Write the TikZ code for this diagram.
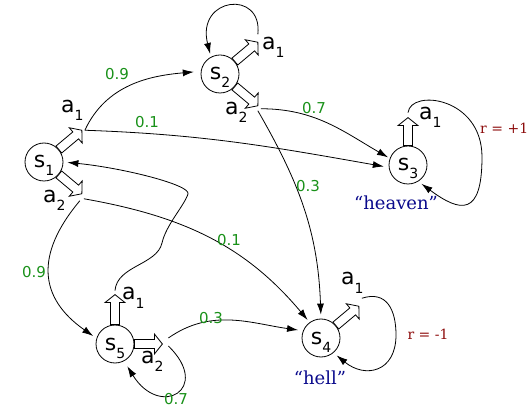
\documentclass[tikz,border=0pt]{standalone}
\usepackage{fontspec}
\setmainfont{DejaVu Sans}
\newfontfamily\serf{DejaVu Serif}
\usetikzlibrary{arrows.meta}
\definecolor{pgreen}{RGB}{25,145,25}
\definecolor{pred}{RGB}{140,10,10}
\definecolor{pblue}{RGB}{10,10,140}
\newcommand\mysub[2]{#1\raisebox{-8pt}{\fontsize{14}{14}\selectfont #2}}
\begin{document}
\begin{tikzpicture}[x=1pt,y=1pt,
  st/.style={circle,draw,line width=0.8pt,minimum size=38pt,inner sep=0pt,
    font=\fontsize{22}{22}\selectfont,text height=12pt,text depth=0pt},
  act/.pic={\draw[line width=0.8pt,fill=white,line join=miter]
      (0,-4.5) -- (#1-8,-4.5) -- (#1-8,-10) -- (#1,0) -- (#1-8,10) -- (#1-8,4.5) -- (0,4.5) -- cycle;
    \coordinate (-tip) at (#1,0);},
  alab/.style={anchor=base west,inner sep=0pt,font=\fontsize{22}{22}\selectfont},
  prob/.style={text=pgreen,font=\fontsize{15}{15}\selectfont,inner sep=0pt},
  rew/.style={text=pred,font=\serf\fontsize{14}{14}\selectfont,inner sep=0pt},
  sname/.style={text=pblue,font=\serf\fontsize{18}{18}\selectfont,inner sep=0pt},
  conn/.style={line width=0.8pt,-{Latex[length=11pt,width=7pt]}},
]
\useasboundingbox (0,0) rectangle (527,407);

% states
\node[st] (s1) at (44,245) {\mysub{s}{1}};
\node[st] (s2) at (220,333) {\mysub{s}{2}};
\node[st] (s3) at (408,242) {\mysub{s}{3}};
\node[st] (s4) at (321,69) {\mysub{s}{4}};
\node[st] (s5) at (115,63) {\mysub{s}{5}};

% actions
\pic[rotate=40] (s1a1) at (s1.40) {act=30};
\pic[rotate=-40] (s1a2) at (s1.-40) {act=30};
\pic[rotate=40] (s2a1) at (s2.40) {act=30};
\pic[rotate=-40] (s2a2) at (s2.-40) {act=30};
\pic[rotate=90] (s3a1) at (s3.90) {act=28};
\pic[rotate=40] (s4a1) at (s4.40) {act=30};
\pic[rotate=90] (s5a1) at (s5.90) {act=30};
\pic (s5a2) at (s5.0) {act=28};

% action labels
\node[alab] (l11) at (61,294) {\mysub{a}{1}};
\node[alab] (l12) at (43,204) {\mysub{a}{2}};
\node[alab] (l21) at (262,357) {\mysub{a}{1}};
\node[alab] (l22) at (225,292) {\mysub{a}{2}};
\node[alab] (l31) at (419,287) {\mysub{a}{1}};
\node[alab] (l41) at (341,122) {\mysub{a}{1}};
\node[alab] (l51) at (122,107) {\mysub{a}{1}};
\node[alab] (l52) at (141,44) {\mysub{a}{2}};

% transitions
\draw[conn,shorten >=7pt] ([xshift=3pt]s1a1-tip) to[out=65,in=185] (s2.172);
\draw[conn,shorten >=5pt] ([xshift=3pt]s1a1-tip) to[out=-2,in=170] (s3.187);
\draw[conn,shorten >=2pt] ([shift={(3pt,-3pt)}]s2a2-tip) to[out=0,in=150] (s3.160);
\draw[conn,shorten >=4pt] ([yshift=-5pt]s2a2-tip) to[out=-60,in=92] (s4.north);
\draw[conn,shorten >=3pt] ([yshift=8pt]s2a1-tip) .. controls +(5,45) and +(-15,60) .. (s2.118);
\draw[conn,shorten >=3pt] ([shift={(2pt,-5pt)}]s1a2-tip) to[out=-10,in=130] (s4.126);
\draw[conn,shorten >=4pt] ([shift={(-2pt,-7pt)}]s1a2-tip) to[out=-130,in=145,looseness=1.3] (s5.163);
\draw[conn,shorten >=4pt] ([yshift=4pt]s5a1-tip) .. controls +(2,25) and +(-5,-22) .. (162,164)
   .. controls +(4,18) and +(-4,-12) .. (188,213)
   .. controls +(3,9) and +(60,-6) .. (s1.east);
\draw[conn,shorten >=5pt] ([shift={(6pt,6pt)}]s5a2-tip) to[out=35,in=172] (s4.158);
\draw[conn,shorten >=6pt] ([shift={(6pt,-2pt)}]s5a2-tip) .. controls +(44,-43) and +(36,-58) .. (s5.-62);
\draw[conn,shorten >=4pt] ([yshift=5pt]s3a1-tip) .. controls +(3,24) and +(0,60) .. (482,250)
   .. controls +(0,-60) and +(42,-31) .. (s3.-58);
\draw[conn,shorten >=4pt] ([shift={(3pt,8pt)}]s4a1-tip) .. controls +(25,8) and +(0,25) .. (396,72)
   .. controls +(0,-37) and +(32,-26) .. (s4.-50);

% probabilities
\node[prob] (p1) at (117,333) {0.9};
\node[prob] (p2) at (147,285) {0.1};
\node[prob] (p3) at (314,299) {0.7};
\node[prob] (p4) at (308,221) {0.3};
\node[prob] (p5) at (229,167) {0.1};
\node[prob] (p6) at (34,135) {0.9};
\node[prob] (p7) at (211,89) {0.3};
\node[prob] (p8) at (176,8) {0.7};

% rewards and names
\node[rew,anchor=west] (r3) at (480,279) {r = +1};
\node[rew] (r4) at (428,73) {r = -1};
\node[sname] (n3) at (396,204) {“heaven”};
\node[sname] (n4) at (320,29) {“hell”};
\end{tikzpicture}
\end{document}
